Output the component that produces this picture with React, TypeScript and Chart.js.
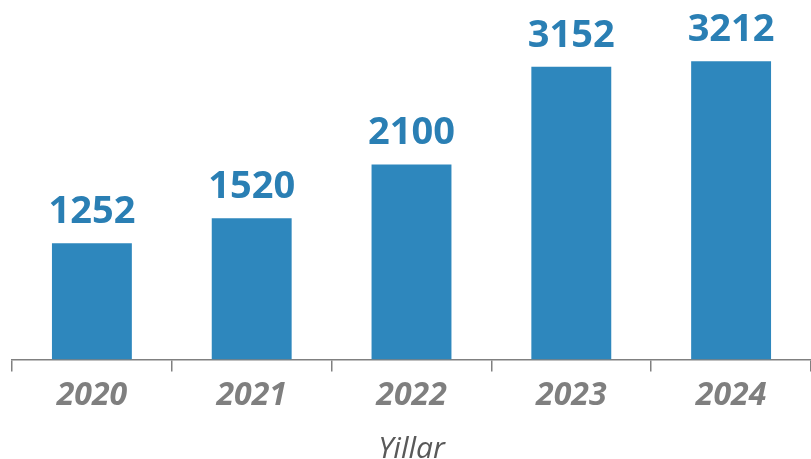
import React, { useEffect, useRef } from "react";
import { Chart, registerables } from "chart.js";

Chart.register(...registerables);

const categories = ["2020", "2021", "2022", "2023", "2024"];
const values = [1252, 1520, 2100, 3152, 3212];
const axisTitle = "Yillar";

const labelPlugin = {
  id: "barLabels",
  afterDatasetsDraw(chart: any) {
    const ctx = chart.ctx;
    const meta = chart.getDatasetMeta(0);
    ctx.save();
    ctx.fillStyle = "#2A7FB4";
    ctx.font = "bold 38px 'Open Sans'";
    ctx.textAlign = "center";
    ctx.textBaseline = "bottom";
    meta.data.forEach((bar: any, i: number) => {
      ctx.fillText(String(values[i]), bar.x, bar.y - 12);
    });
    ctx.restore();
  },
};

export default function App() {
  const ref = useRef<HTMLCanvasElement>(null);
  useEffect(() => {
    const chart = new Chart(ref.current!, {
      type: "bar",
      data: {
        labels: categories,
        datasets: [
          {
            data: values,
            backgroundColor: "#2E87BD",
            barPercentage: 0.5,
            categoryPercentage: 1,
          },
        ],
      },
      options: {
        animation: false,
        responsive: false,
        layout: { padding: { left: 12, right: 0, top: 0, bottom: 0 } },
        plugins: { legend: { display: false }, tooltip: { enabled: false } },
        scales: {
          y: { display: false, min: 0, max: 3870 },
          x: {
            border: { display: true, color: "#808080", width: 1.5 },
            grid: {
              display: true,
              drawOnChartArea: false,
              drawTicks: true,
              tickLength: 12,
              color: "#808080",
              lineWidth: 1.5,
              offset: true,
            },
            ticks: {
              color: "#7F7F7F",
              font: { family: "'Open Sans'", size: 32, style: "italic", weight: "bold" },
              padding: 5,
            },
            title: {
              display: true,
              text: axisTitle,
              color: "#595959",
              font: { family: "'Open Sans'", size: 30, style: "italic" },
              padding: { top: 11, bottom: -8 },
            },
          },
        },
      },
      plugins: [labelPlugin],
    });
    return () => chart.destroy();
  }, []);
  return (
    <div style={{ position: "fixed", left: 0, top: 0, width: 811, height: 459 }}>
      <canvas ref={ref} width={811} height={459} />
    </div>
  );
}
